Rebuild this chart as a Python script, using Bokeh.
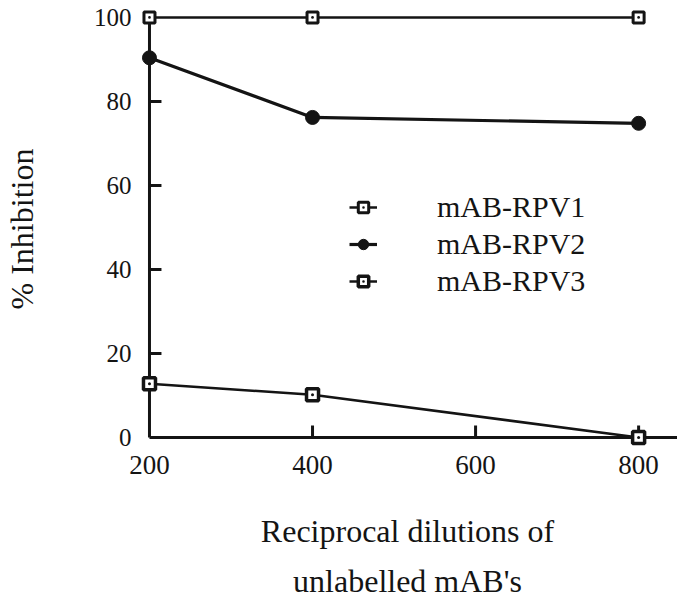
from bokeh.plotting import figure
from bokeh.models import Range1d, FixedTicker, Legend, LinearAxis
from bokeh.embed import file_html
from bokeh.resources import INLINE

dilutions = [200, 400, 800]
rpv1 = [100, 100, 100]
rpv2 = [90.4, 76.2, 74.8]
rpv3 = [12.8, 10.2, 0]
series_names = ["mAB-RPV1", "mAB-RPV2", "mAB-RPV3"]
x_ticks = [200, 400, 600, 800]
y_ticks = [0, 20, 40, 60, 80, 100]
x_title_lines = ["Reciprocal dilutions of", "unlabelled mAB's"]
y_title = "%  Inhibition"

FONT = "Liberation Serif"
INK = "#141414"

X0, X1 = 185.3, 847.7
Y0, Y1 = -2.85, 104.04
FRAME_LEFT, FRAME_BOTTOM = 136, 151

p = figure(width=677, height=601, output_backend="svg", toolbar_location=None,
           x_range=Range1d(X0, X1), y_range=Range1d(Y0, Y1),
           min_border_left=FRAME_LEFT, min_border_right=0, min_border_top=0,
           min_border_bottom=FRAME_BOTTOM)
p.outline_line_color = None
p.grid.visible = False

# axes provide tick labels and titles; axis lines drawn at the data origin below
for ax in (p.xaxis, p.yaxis):
    ax.axis_line_color = None
    ax.major_tick_line_color = None
    ax.minor_tick_line_color = None
    ax.major_tick_in = 0
    ax.major_tick_out = 0
    ax.major_label_text_font = FONT
    ax.major_label_text_color = INK
    ax.axis_label_text_font = FONT
    ax.axis_label_text_font_style = "normal"
    ax.axis_label_text_color = INK
    ax.axis_label_text_font_size = "32px"

p.xaxis.ticker = FixedTicker(ticks=x_ticks)
p.yaxis.ticker = FixedTicker(ticks=y_ticks)
p.xaxis.major_label_text_font_size = "27px"
p.yaxis.major_label_text_font_size = "25px"
p.xaxis.major_label_standoff = 6
p.yaxis.major_label_standoff = 6
p.xaxis.axis_label = x_title_lines[0]
p.xaxis.axis_label_standoff = 36
p.yaxis.axis_label = y_title
p.yaxis.axis_label_standoff = 51

ax2 = LinearAxis(ticker=FixedTicker(ticks=[]), axis_label=x_title_lines[1],
                 axis_line_color=None, major_tick_line_color=None,
                 minor_tick_line_color=None, major_tick_in=0, major_tick_out=0,
                 axis_label_text_font=FONT, axis_label_text_font_style="normal",
                 axis_label_text_color=INK, axis_label_text_font_size="32px",
                 axis_label_standoff=11)
p.add_layout(ax2, "below")

# axis lines and inward ticks at the data origin (x=200, y=0)
x_origin, y_origin = x_ticks[0], y_ticks[0]
p.segment(x0=[x_origin, x_origin], y0=[y_origin, y_origin],
          x1=[X1, x_origin], y1=[y_origin, y_ticks[-1]],
          line_color=INK, line_width=3)
ytk = y_ticks[1:-1]
p.segment(x0=[x_origin] * len(ytk), y0=ytk, x1=[x_origin + 12 / 0.81667] * len(ytk), y1=ytk,
          line_color=INK, line_width=3)
xtk = x_ticks[1:]
p.segment(x0=xtk, y0=[y_origin] * len(xtk), x1=xtk, y1=[y_origin + 12 / 4.21] * len(xtk),
          line_color=INK, line_width=3)

l1 = p.line(dilutions, rpv1, line_color=INK, line_width=2.5)
s1 = p.scatter(dilutions, rpv1, marker="square_dot", size=11, fill_color="white",
               line_color=INK, line_width=3)
l2 = p.line(dilutions, rpv2, line_color=INK, line_width=3.2)
s2 = p.scatter(dilutions, rpv2, marker="circle", size=14, fill_color=INK,
               line_color=INK, line_width=1)
l3 = p.line(dilutions, rpv3, line_color=INK, line_width=2.5)
s3 = p.scatter(dilutions, rpv3, marker="square_dot", size=12, fill_color="white",
               line_color=INK, line_width=3.5)

legend = Legend(items=[(series_names[0], [l1, s1]), (series_names[1], [l2, s2]),
                       (series_names[2], [l3, s3])],
                location=(212, 151), border_line_color=None, background_fill_alpha=0,
                padding=0, margin=0, spacing=3, glyph_width=28, glyph_height=26,
                label_height=26, label_standoff=60, label_text_font=FONT,
                label_text_font_size="30px", label_text_color=INK)
p.add_layout(legend, "center")

open("out.html", "w").write(file_html(p, INLINE))
